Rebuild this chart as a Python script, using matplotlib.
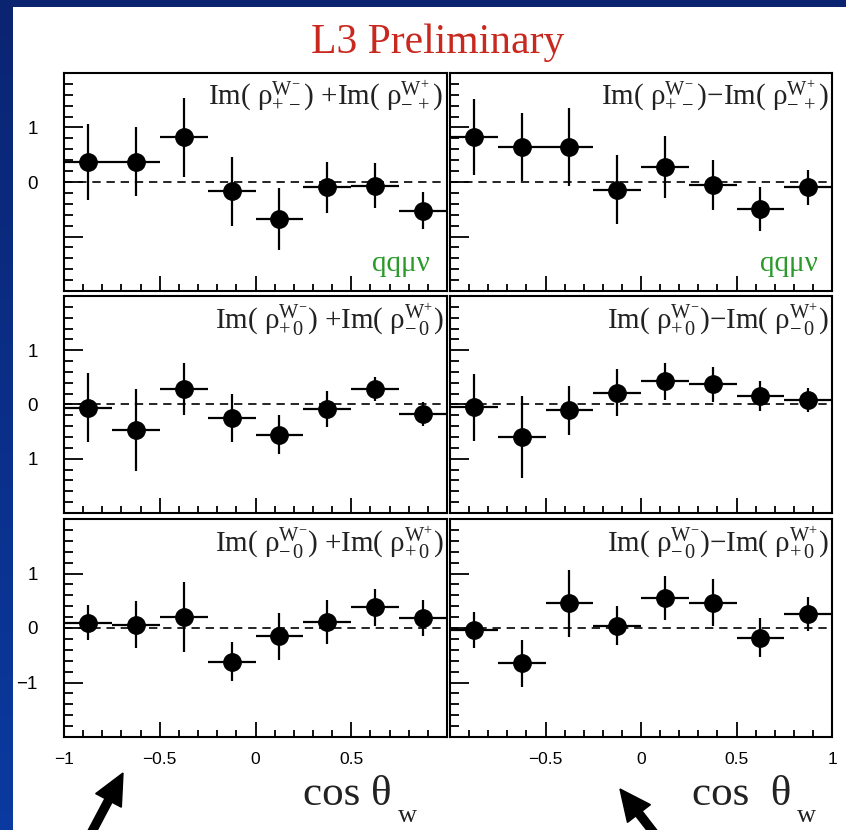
import matplotlib
matplotlib.use("Agg")
import matplotlib.pyplot as plt
import numpy as np
from matplotlib.patches import FancyArrow
from matplotlib.ticker import MultipleLocator

plt.rcParams['mathtext.fontset'] = 'custom'
plt.rcParams['mathtext.rm'] = 'Liberation Serif'
plt.rcParams['mathtext.it'] = 'Liberation Serif:italic'

# bin centres in cos(theta_W), 8 bins of width 0.25
cos_bins = [-0.875, -0.625, -0.375, -0.125, 0.125, 0.375, 0.625, 0.875]
half_width = 0.125

# Im(rho+-) +/- Im(rho-+), qq mu nu channel
sum_pm = [0.37, 0.37, 0.82, -0.17, -0.68, -0.10, -0.07, -0.53]
sum_pm_err = [0.70, 0.63, 0.73, 0.63, 0.57, 0.47, 0.41, 0.34]
diff_pm = [0.82, 0.64, 0.64, -0.14, 0.27, -0.06, -0.49, -0.10]
diff_pm_err = [0.70, 0.62, 0.72, 0.63, 0.57, 0.46, 0.40, 0.32]

# Im(rho+0) +/- Im(rho-0)
sum_p0 = [-0.06, -0.47, 0.29, -0.25, -0.56, -0.08, 0.29, -0.17]
sum_p0_err = [0.64, 0.75, 0.48, 0.45, 0.36, 0.33, 0.22, 0.22]
diff_p0 = [-0.05, -0.60, -0.11, 0.22, 0.43, 0.37, 0.16, 0.09]
diff_p0_err = [0.62, 0.75, 0.46, 0.44, 0.34, 0.32, 0.28, 0.22]

# Im(rho-0) +/- Im(rho+0)
sum_m0 = [0.10, 0.06, 0.20, -0.62, -0.15, 0.11, 0.38, 0.19]
sum_m0_err = [0.32, 0.43, 0.64, 0.36, 0.43, 0.41, 0.34, 0.33]
diff_m0 = [-0.03, -0.65, 0.45, 0.04, 0.55, 0.46, -0.18, 0.26]
diff_m0_err = [0.33, 0.43, 0.62, 0.36, 0.41, 0.43, 0.36, 0.31]

panel_titles = [
    r"$\mathrm{Im(\ ρ^{W^{-}}_{+\,-})\ {+}Im(\ ρ^{W^{+}}_{-\,+})}$",
    r"$\mathrm{Im(\ ρ^{W^{-}}_{+\,-}){-}Im(\ ρ^{W^{+}}_{-\,+})}$",
    r"$\mathrm{Im(\ ρ^{W^{-}}_{+\,0})\ {+}Im(\ ρ^{W^{+}}_{-\,0})}$",
    r"$\mathrm{Im(\ ρ^{W^{-}}_{+\,0}){-}Im(\ ρ^{W^{+}}_{-\,0})}$",
    r"$\mathrm{Im(\ ρ^{W^{-}}_{-\,0})\ {+}Im(\ ρ^{W^{+}}_{+\,0})}$",
    r"$\mathrm{Im(\ ρ^{W^{-}}_{-\,0}){-}Im(\ ρ^{W^{+}}_{+\,0})}$",
]
values = [sum_pm, diff_pm, sum_p0, diff_p0, sum_m0, diff_m0]
errors = [sum_pm_err, diff_pm_err, sum_p0_err, diff_p0_err, sum_m0_err, diff_m0_err]
ytick_labels = [["", "0", "1"], ["1", "0", "1"], ["\u22121", "0", "1"]]
xtick_vals = [-1, -0.5, 0, 0.5, 1]
xtick_left = ["\u22121", "\u22120.5", "0", "0.5", ""]
xtick_right = ["", "\u22120.5", "0", "0.5", "1"]

W, H = 846, 830
fig = plt.figure(figsize=(W / 100, H / 100), dpi=100, facecolor='white')

# blue slide border (left strip with a slight gradient, thin top band)
strip = fig.add_axes([0, 0, 12 / W, 1])
grad = np.linspace(0, 1, 256).reshape(-1, 1)
cmap = matplotlib.colors.LinearSegmentedColormap.from_list('slide', ['#0a3aa0', '#0a2472'])
strip.imshow(grad, aspect='auto', cmap=cmap, origin='lower')
strip.axis('off')
top = fig.add_axes([0, 1 - 7 / H, 1, 7 / H])
top.set_facecolor('#0a2472')
top.set_xticks([]); top.set_yticks([])
for s in top.spines.values():
    s.set_visible(False)

cols = [(64, 447), (450, 832)]
rows = [(73, 291), (296, 513), (519, 737)]

for i in range(6):
    r, c = divmod(i, 2)
    x0, x1 = cols[c]
    y0, y1 = rows[r]
    ax = fig.add_axes([x0 / W, 1 - y1 / H, (x1 - x0) / W, (y1 - y0) / H])
    ax.set_xlim(-1, 1)
    ax.set_ylim(-2, 2)
    ax.axhline(0, color='black', lw=1.2, dashes=(5, 3.5), zorder=1)
    ax.errorbar(cos_bins, values[i], xerr=half_width, yerr=errors[i],
                fmt='o', color='black', ms=12.5, elinewidth=1.6, capsize=0, zorder=3)
    ax.text(0.99 if c == 0 else 0.992, 0.975, panel_titles[i], transform=ax.transAxes,
            ha='right', va='top', fontsize=21, color='#222222')
    if r == 0:
        ax.text(0.955 if c == 0 else 0.963, 0.09, "qqμν", transform=ax.transAxes,
                ha='right', va='baseline', fontsize=21, color='#2a9a2a',
                family='Liberation Serif')
    for s in ax.spines.values():
        s.set_linewidth(1.5)
    ax.xaxis.set_major_locator(MultipleLocator(0.5))
    ax.xaxis.set_minor_locator(MultipleLocator(0.1))
    ax.yaxis.set_major_locator(MultipleLocator(1))
    ax.yaxis.set_minor_locator(MultipleLocator(0.2))
    ax.tick_params(axis='x', which='major', direction='in', length=11, width=1.3, pad=11,
                   labelsize=12.5, top=False)
    ax.tick_params(axis='x', which='minor', direction='in', length=5, width=1.3, top=False)
    ax.tick_params(axis='y', which='major', direction='in', length=13.5, width=1.3, pad=19,
                   labelsize=13.5, right=False)
    ax.tick_params(axis='y', which='minor', direction='in', length=6.5, width=1.3, right=False)
    ax.set_yticks([-1, 0, 1])
    if c == 0:
        ax.set_yticklabels(ytick_labels[r], family='Liberation Sans')
    else:
        ax.set_yticklabels([])
    ax.set_xticks(xtick_vals)
    if r == 2:
        ax.set_xticklabels(xtick_left if c == 0 else xtick_right, family='Liberation Sans')
    else:
        ax.set_xticklabels([])

# title and axis labels
fig.text(438 / W, 1 - 53 / H, "L3 Preliminary", ha='center', va='baseline',
         fontsize=30, color='#c8281e', family='Liberation Serif')
for x_cos, x_w, label in [(303, 398, "cos θ"), (692, 797, "cos  θ")]:
    fig.text(x_cos / W, 1 - 805 / H, label, ha='left', va='baseline',
             fontsize=31, color='#222222', family='Liberation Serif')
    fig.text(x_w / W, 1 - 822 / H, "w", ha='left', va='baseline',
             fontsize=19, color='#222222', family='Liberation Serif')

# pointer arrows along the bottom edge
over = fig.add_axes([0, 0, 1, 1], facecolor='none')
over.set_xlim(0, W)
over.set_ylim(H, 0)
over.axis('off')
for tip, tail in [((123, 773), (78, 858)), ((620, 789), (671, 855))]:
    dx, dy = tip[0] - tail[0], tip[1] - tail[1]
    over.add_patch(FancyArrow(tail[0], tail[1], dx, dy, width=8, head_width=29,
                              head_length=31, length_includes_head=True,
                              color='black', clip_on=False))

fig.savefig("out.png", dpi=100, facecolor='white')
